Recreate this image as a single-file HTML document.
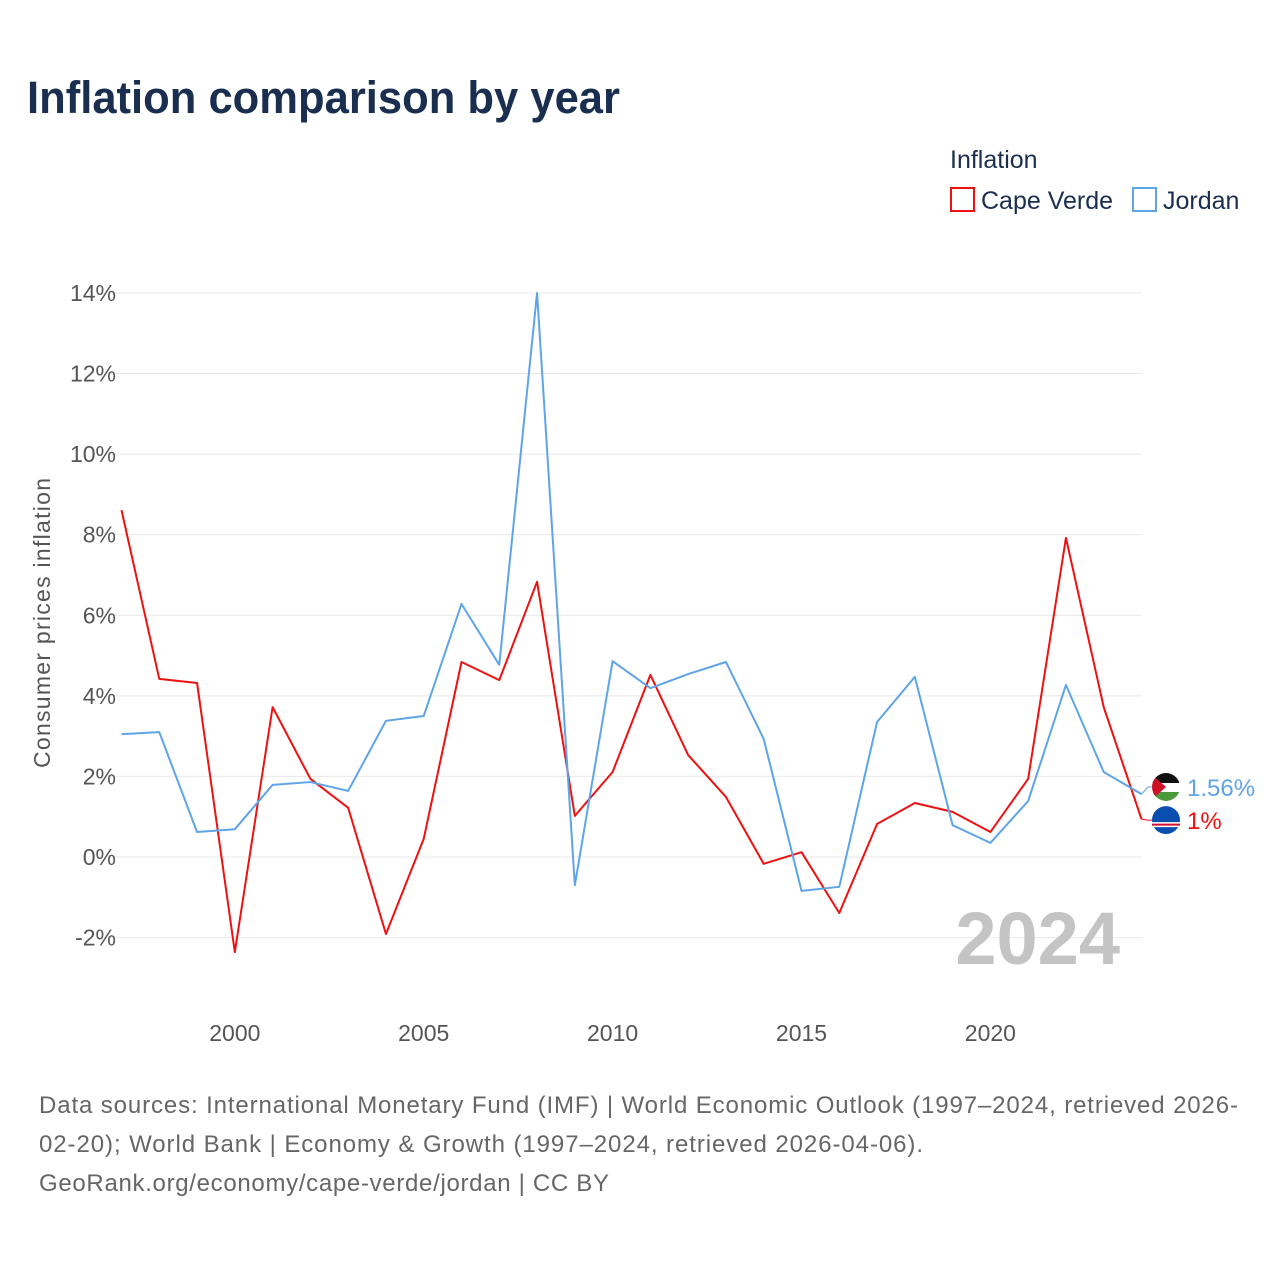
<!DOCTYPE html>
<html><head><meta charset="utf-8"><style>
body{margin:0;background:#fff;font-family:"Liberation Sans",sans-serif}
#wrap{position:relative;width:1280px;height:1280px}
</style></head><body>
<div id="wrap">
<svg id="chart" width="1280" height="1280">
<text x="27" y="113" font-size="45" font-weight="bold" fill="#1a2e4f" textLength="593" lengthAdjust="spacingAndGlyphs">Inflation comparison by year</text>
<text x="950" y="168" font-size="25" fill="#1a2e4f">Inflation</text>
<g><rect x="951" y="188" width="23" height="23" fill="none" stroke="#ee1111" stroke-width="2"/><text x="981" y="209" font-size="25" fill="#1a2e4f">Cape Verde</text></g>
<g><rect x="1133" y="188" width="23" height="23" fill="none" stroke="#5fa4e8" stroke-width="2"/><text x="1163" y="209" font-size="25" fill="#1a2e4f">Jordan</text></g>
<g id="grid"></g><g id="yticks"></g><g id="xticks"></g>
<text transform="translate(50,623) rotate(-90)" text-anchor="middle" font-size="23" fill="#555" textLength="290">Consumer prices inflation</text>
<text x="1120" y="964" text-anchor="end" font-size="74" font-weight="bold" fill="#c4c4c4">2024</text>
<g id="series"></g>
<g font-size="24" fill="#666">
<text x="39" y="1113" textLength="1199">Data sources: International Monetary Fund (IMF) | World Economic Outlook (1997–2024, retrieved 2026-</text>
<text x="39" y="1152" textLength="884">02-20); World Bank | Economy &amp; Growth (1997–2024, retrieved 2026-04-06).</text>
<text x="39" y="1191" textLength="570">GeoRank.org/economy/cape-verde/jordan | CC BY</text>
</g>
</svg>
</div>
<script>
const years=[1997,1998,1999,2000,2001,2002,2003,2004,2005,2006,2007,2008,2009,2010,2011,2012,2013,2014,2015,2016,2017,2018,2019,2020,2021,2022,2023,2024];
const capeVerde=[8.61,4.42,4.32,-2.36,3.72,1.94,1.22,-1.91,0.45,4.84,4.39,6.83,1.02,2.11,4.52,2.53,1.49,-0.17,0.12,-1.39,0.82,1.34,1.12,0.62,1.94,7.92,3.72,0.94];
const jordan=[3.05,3.10,0.62,0.69,1.79,1.86,1.64,3.38,3.50,6.28,4.77,14.0,-0.70,4.86,4.19,4.54,4.84,2.93,-0.84,-0.74,3.35,4.47,0.79,0.35,1.39,4.27,2.11,1.56];
const yTicks=[-2,0,2,4,6,8,10,12,14];
const xTicks=[2000,2005,2010,2015,2020];
const NS="http://www.w3.org/2000/svg";
const X=y=>121.5+(y-1997)*(1141.5-121.5)/27;
const Y=v=>857-v*40.29;
function mk(t,a,p){const e=document.createElementNS(NS,t);for(const k in a)e.setAttribute(k,a[k]);p.appendChild(e);return e;}
const g=document.getElementById('grid'),yt=document.getElementById('yticks'),xt=document.getElementById('xticks'),s=document.getElementById('series');
yTicks.forEach(v=>{
 const l=mk('line',{x1:110,x2:1142,y1:Y(v),y2:Y(v),stroke:'#e8e8e8','stroke-width':1},g);
 
 
 const t=mk('text',{x:116,y:Y(v)+8,'text-anchor':'end','font-size':23,fill:'#555'},yt);
 t.textContent=v+'%';
 
 
});
xTicks.forEach(v=>{
 const t=mk('text',{x:X(v),y:1041,'text-anchor':'middle','font-size':23,fill:'#555'},xt);
 t.textContent=v;
 
 
});
function line(d,c,name,label,flagY,flag){
 const p=mk('polyline',{points:d.map((v,i)=>X(years[i])+','+Y(v)).join(' '),fill:'none',stroke:c,'stroke-width':2,'stroke-linejoin':'round'},s);
 
 
 const last=d[d.length-1];
 mk('polyline',{points:`${X(2024)},${Y(last)} 1148,${flagY} 1152,${flagY}`,fill:'none',stroke:c,'stroke-width':1},s);
 const f=mk('g',{},s);
 
 
 flag(f,flagY);
 const t=mk('text',{x:1187,y:flagY+9,'font-size':24,fill:c},s);
 t.textContent=label;
 
 
}
line(capeVerde,'#ee1111','cape-verde-line','1%',Y(capeVerde[27])+1,(f,y)=>{
 mk('circle',{cx:1166,cy:y,r:14,fill:'#0a4fb0'},f);
 mk('rect',{x:1152,y:y+2,width:28,height:5,fill:'#fff'},f);
 mk('rect',{x:1152,y:y+3.5,width:28,height:2,fill:'#d21034'},f);
});
line(jordan,'#5fa4e8','jordan-line','1.56%',787,(f,y)=>{
 mk('clipPath',{id:'jc'},f);
 mk('circle',{cx:1166,cy:y,r:14},document.getElementById('jc'));
 const gg=mk('g',{'clip-path':'url(#jc)'},f);
 mk('rect',{x:1150,y:y-14,width:32,height:10,fill:'#111'},gg);
 mk('rect',{x:1150,y:y-4,width:32,height:9,fill:'#fff'},gg);
 mk('rect',{x:1150,y:y+5,width:32,height:10,fill:'#4a9a3b'},gg);
 mk('polygon',{points:`1150,${y-14} 1166,${y} 1150,${y+14}`,fill:'#ce1126'},gg);
});
</script>
</body></html>
